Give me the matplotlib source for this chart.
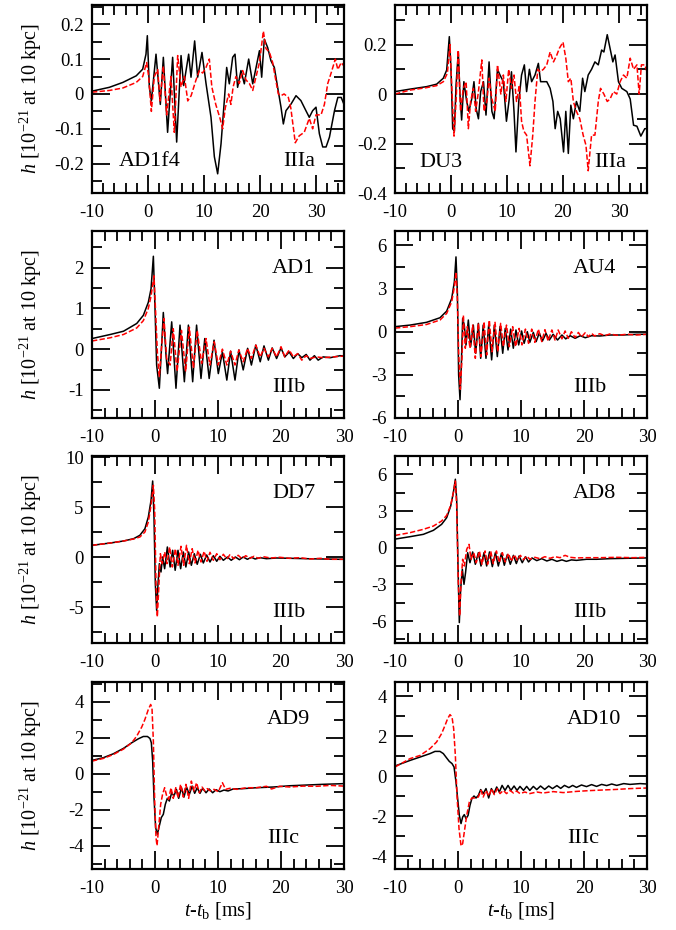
import matplotlib
matplotlib.use("Agg")
from matplotlib import pyplot as plt
from matplotlib.ticker import MultipleLocator, FormatStrFormatter

plt.rcParams["font.family"] = "Liberation Serif"
plt.rcParams["mathtext.fontset"] = "custom"
plt.rcParams["mathtext.rm"] = "Liberation Serif"
plt.rcParams["mathtext.it"] = "Liberation Serif:italic"
plt.rcParams["axes.unicode_minus"] = False

# ---- waveform samples (t - t_b in ms, h in 1e-21) ----
AD1F4_T_BLACK = [-10, -6.9, -4.5, -2.1, -0.95, -0.36, -0.12, 0.24, 0.6, 1.43, 2.2, 2.74, 3.5, 4.4, 5.12, 5.9, 6.37, 7.26, 7.68, 8.33, 8.87, 9.64, 10.36, 11.25, 11.85, 12.44, 13.04, 13.63, 14.05, 14.52, 15.12, 15.54, 16.0, 16.6, 17.2, 17.98, 18.7, 19.3, 19.9, 20.3, 20.77, 21.37, 21.96, 22.56, 23.15, 23.75, 24.17, 24.64, 25.54, 26.43, 27.3, 28.2, 28.8, 29.4, 30.0, 30.6, 31.2, 31.8, 32.4, 33.3, 33.9, 34.5, 35]
AD1F4_H_BLACK = [0.008, 0.019, 0.033, 0.052, 0.071, 0.114, 0.167, 0.02, -0.02, 0.114, -0.03, 0.105, -0.11, 0.105, -0.138, 0.11, 0.024, 0.114, 0.048, 0.152, 0.048, 0.119, 0.03, -0.067, -0.18, -0.229, -0.143, -0.019, 0.076, 0.029, 0.105, 0.114, 0.019, 0.067, 0.029, 0.1, 0.029, 0.076, 0.124, 0.048, 0.157, 0.133, 0.095, 0.076, 0.019, -0.038, -0.086, -0.048, -0.029, -0.005, -0.019, -0.048, -0.067, -0.048, -0.038, -0.114, -0.152, -0.152, -0.124, -0.048, -0.01, -0.01, -0.03]
AD1F4_T_RED = [-10, -6.9, -4.5, -2.1, -0.95, -0.24, 0.12, 0.6, 1.13, 1.73, 2.14, 2.74, 3.33, 4.1, 4.7, 5.3, 5.9, 6.5, 7.1, 7.7, 8.57, 9.17, 9.76, 10.36, 10.95, 11.4, 12.1, 12.86, 13.33, 13.8, 14.4, 14.8, 15.2, 15.7, 16.3, 16.9, 17.5, 18.1, 18.7, 19.3, 19.9, 20.6, 21.07, 21.67, 22.26, 22.7, 23.27, 23.75, 24.3, 25.06, 25.5, 26.3, 27.0, 27.9, 28.8, 29.4, 30.0, 30.9, 31.5, 32.1, 32.7, 33.45, 33.9, 34.5, 35]
AD1F4_H_RED = [0.005, 0.01, 0.017, 0.033, 0.05, 0.09, 0.05, -0.05, 0.05, 0.07, -0.02, 0.08, -0.06, 0.05, -0.11, 0.11, 0.02, 0.05, -0.02, -0.005, 0.04, 0.067, 0.06, 0.076, 0.1, 0.02, -0.03, -0.07, -0.1, -0.04, 0.0, -0.03, 0.02, 0.05, 0.03, 0.067, 0.04, 0.03, 0.01, 0.05, 0.09, 0.18, 0.13, 0.12, 0.09, 0.05, 0.0, -0.005, 0.0, -0.01, -0.04, -0.14, -0.12, -0.11, -0.07, -0.1, -0.06, -0.06, -0.03, 0.03, 0.06, 0.1, 0.07, 0.09, 0.08]

DU3_T_BLACK = [-10, -7.3, -4.35, -2.56, -1.37, -0.77, -0.3, 0.0, 0.3, 0.6, 0.9, 1.3, 1.6, 1.9, 2.3, 2.8, 3.2, 3.7, 4.1, 4.5, 4.9, 5.3, 5.8, 6.25, 6.8, 7.3, 7.7, 8.3, 8.75, 9.35, 9.9, 10.4, 10.8, 11.25, 11.6, 12.1, 12.6, 13.1, 13.5, 14.0, 14.4, 15.0, 15.6, 16.0, 16.5, 17.1, 17.7, 18.2, 18.6, 19.05, 19.5, 20.1, 20.5, 20.95, 21.4, 21.85, 22.4, 23.0, 23.5, 23.9, 24.5, 25.1, 25.7, 26.3, 26.9, 27.3, 27.9, 28.4, 28.9, 29.3, 29.9, 30.5, 31.4, 32.0, 32.6, 33.2, 33.9, 34.6, 35]
DU3_H_BLACK = [0.01, 0.02, 0.03, 0.04, 0.064, 0.097, 0.232, 0.1, -0.14, -0.15, 0.036, 0.17, 0.0, -0.105, 0.05, -0.03, -0.07, -0.02, 0.05, -0.06, -0.1, 0.01, 0.05, -0.085, 0.13, -0.07, -0.1, 0.1, 0.077, 0.05, -0.11, -0.02, 0.09, -0.07, -0.234, -0.03, 0.077, 0.118, 0.01, 0.1, 0.05, 0.077, 0.124, 0.05, 0.05, 0.05, 0.023, -0.03, -0.14, -0.07, -0.1, -0.234, -0.07, -0.24, -0.045, -0.1, -0.03, -0.07, 0.064, 0.01, 0.077, 0.1, 0.13, 0.118, 0.178, 0.17, 0.24, 0.185, 0.13, 0.158, 0.05, 0.023, 0.01, -0.02, -0.126, -0.13, -0.17, -0.14, -0.14]
DU3_T_RED = [-10, -7.3, -4.35, -2.56, -1.37, -0.65, -0.18, 0.12, 0.54, 0.9, 1.3, 1.7, 2.2, 2.7, 3.1, 3.5, 4.0, 4.4, 4.9, 5.5, 5.9, 6.4, 6.8, 7.3, 7.9, 8.3, 8.9, 9.35, 9.8, 10.3, 10.8, 11.25, 11.7, 12.2, 12.6, 13.0, 13.5, 14.1, 14.6, 15.0, 15.5, 15.9, 16.5, 17.1, 17.7, 18.3, 18.9, 19.35, 20.0, 20.5, 20.95, 21.4, 21.85, 22.4, 23.0, 23.6, 24.1, 24.5, 25.1, 25.7, 26.3, 26.7, 27.3, 27.9, 28.4, 29.0, 29.6, 30.2, 30.8, 31.4, 32.0, 32.6, 33.2, 33.6, 34.0, 34.6, 35]
DU3_H_RED = [0.0, 0.016, 0.026, 0.034, 0.05, 0.084, 0.2, 0.036, -0.17, -0.03, 0.178, -0.07, 0.023, 0.05, -0.14, -0.03, 0.023, -0.07, 0.01, 0.138, -0.07, -0.03, 0.064, -0.02, -0.07, 0.118, 0.0, 0.077, -0.03, 0.1, 0.023, 0.077, -0.03, 0.036, -0.11, -0.15, -0.166, -0.29, -0.166, -0.03, 0.1, 0.09, 0.1, 0.118, 0.17, 0.13, 0.158, 0.185, 0.21, 0.145, 0.05, 0.064, -0.03, -0.07, -0.1, -0.166, -0.207, -0.31, -0.166, -0.166, -0.03, 0.023, 0.0, -0.03, -0.02, 0.01, 0.0, 0.05, 0.077, 0.064, 0.145, 0.1, 0.118, 0.0, 0.118, 0.118, 0.09]

AD1_T_BLACK = [-10, -7.1, -5.0, -2.9, -1.85, -1.06, -0.63, -0.26, 0.0, 0.26, 0.69, 1.0, 1.32, 1.75, 2.0, 2.65, 3.33, 3.97, 4.66, 5.3, 5.98, 6.6, 7.3, 7.9, 8.6, 9.37, 10.05, 10.7, 11.4, 12.0, 12.7, 13.33, 14.0, 14.7, 15.3, 16.0, 16.7, 17.3, 18.0, 18.6, 19.3, 20.0, 20.6, 21.3, 21.96, 22.65, 23.3, 24.0, 24.6, 25.3, 25.9, 26.7, 27.8, 29.4, 30]
AD1_H_BLACK = [0.26, 0.36, 0.44, 0.63, 0.83, 1.15, 1.48, 2.28, 1.0, -0.39, -0.96, -0.07, 0.9, -0.15, -0.6, 0.67, -0.96, 0.59, -0.8, 0.59, -0.8, 0.59, -0.72, 0.26, -0.72, 0.22, -0.6, -0.07, -0.76, -0.05, -0.76, -0.02, -0.51, 0.02, -0.39, 0.1, -0.31, 0.08, -0.27, 0.03, -0.23, 0.03, -0.19, -0.07, -0.23, -0.11, -0.21, -0.13, -0.27, -0.16, -0.27, -0.19, -0.21, -0.16, -0.17]
AD1_T_RED = [-10, -7.1, -5.0, -2.9, -1.85, -1.06, -0.63, -0.16, 0.1, 0.37, 0.69, 1.06, 1.43, 1.85, 2.4, 2.9, 3.5, 4.2, 4.87, 5.45, 6.1, 6.7, 7.4, 8.1, 8.7, 9.4, 10.05, 10.7, 11.4, 12.0, 12.7, 13.3, 14.0, 14.7, 15.3, 16.0, 16.7, 17.3, 18.0, 18.6, 19.3, 20.0, 20.6, 21.3, 21.96, 22.65, 23.3, 24.0, 24.6, 25.6, 26.7, 28.3, 30]
AD1_H_RED = [0.2, 0.28, 0.36, 0.52, 0.7, 1.0, 1.3, 1.8, 0.91, -0.07, -0.67, 0.1, 0.75, -0.23, -0.39, 0.5, -0.55, 0.46, -0.55, 0.54, -0.47, 0.46, -0.35, 0.26, -0.39, 0.18, -0.39, 0.0, -0.39, -0.05, -0.39, -0.02, -0.31, 0.02, -0.23, 0.1, -0.19, 0.02, -0.19, 0.02, -0.19, 0.06, -0.19, -0.02, -0.19, -0.11, -0.27, -0.16, -0.23, -0.19, -0.21, -0.19, -0.17]

AU4_T_BLACK = [-10, -7.6, -5.0, -2.86, -1.8, -1.0, -0.58, -0.32, -0.1, 0.1, 0.32, 0.53, 0.74, 1.0, 1.27, 1.64, 2.0, 2.43, 2.8, 3.23, 3.6, 4.0, 4.44, 4.87, 5.34, 5.77, 6.24, 6.67, 7.1, 7.5, 7.94, 8.36, 8.78, 9.2, 9.63, 10.1, 10.5, 11.0, 11.4, 11.96, 12.4, 12.9, 13.4, 13.97, 14.5, 15.1, 15.8, 16.5, 17.1, 17.8, 18.6, 19.4, 20.2, 21.2, 22.5, 24.1, 26.2, 28.4, 30.0]
AU4_H_BLACK = [0.35, 0.46, 0.65, 0.97, 1.43, 2.31, 3.46, 5.2, 2.77, -3.0, -4.73, -2.3, 0.92, 0.46, -0.92, 0.81, -1.04, 0.46, -1.5, 0.58, -1.85, 0.46, -1.85, 0.46, -1.96, 0.46, -1.73, 0.35, -1.5, 0.23, -1.27, 0.18, -1.15, 0.12, -0.92, 0.05, -0.81, 0.0, -0.74, -0.05, -0.69, -0.09, -0.65, -0.12, -0.58, -0.18, -0.58, -0.23, -0.5, -0.28, -0.46, -0.28, -0.42, -0.28, -0.3, -0.23, -0.23, -0.18, -0.18]
AU4_T_RED = [-10, -7.6, -5.0, -2.86, -1.8, -1.0, -0.58, -0.32, -0.1, 0.1, 0.37, 0.63, 0.85, 1.16, 1.48, 1.9, 2.33, 2.75, 3.23, 3.65, 4.13, 4.55, 4.97, 5.4, 5.87, 6.3, 6.77, 7.2, 7.7, 8.15, 8.68, 9.15, 9.7, 10.16, 10.7, 11.2, 11.7, 12.2, 12.75, 13.3, 13.8, 14.3, 14.9, 15.4, 15.9, 16.5, 17.0, 17.5, 18.0, 18.6, 19.1, 19.6, 20.2, 20.7, 21.2, 21.7, 22.5, 23.3, 24.1, 25.2, 26.8, 28.4, 30.0]
AU4_H_RED = [0.25, 0.35, 0.5, 0.81, 1.27, 2.08, 3.1, 4.16, 2.31, -1.4, -4.0, -1.85, 1.15, -1.15, 0.35, -1.15, 0.46, -1.85, 0.58, -1.73, 0.69, -1.62, 0.81, -1.4, 0.69, -1.4, 0.58, -1.04, 0.46, -1.04, 0.35, -1.04, 0.23, -0.92, 0.18, -0.81, 0.18, -0.74, 0.18, -0.69, 0.14, -0.65, 0.12, -0.58, 0.12, -0.5, 0.05, -0.46, 0.0, -0.42, -0.05, -0.37, -0.07, -0.35, -0.12, -0.3, -0.14, -0.28, -0.16, -0.25, -0.18, -0.23, -0.18]

DD7_T_BLACK = [-10, -7.1, -5.0, -3.4, -2.4, -1.6, -1.06, -0.63, -0.37, -0.16, 0.05, 0.26, 0.48, 0.69, 0.95, 1.2, 1.53, 1.96, 2.4, 2.8, 3.2, 3.65, 4.07, 4.5, 4.9, 5.34, 5.77, 6.24, 6.7, 7.2, 7.67, 8.2, 8.73, 9.26, 9.8, 10.3, 10.85, 11.5, 12.1, 12.75, 13.4, 14.0, 14.66, 15.3, 15.9, 16.7, 17.7, 19.3, 21.4, 24.1, 26.7, 29.4, 30]
DD7_H_BLACK = [1.17, 1.4, 1.6, 1.83, 2.17, 2.83, 4.0, 5.67, 7.6, 4.0, -2.67, -5.33, -2.67, -0.67, -1.5, 0.0, -1.17, 1.0, -1.0, 0.67, -1.33, 0.67, -1.17, 0.5, -1.0, 0.5, -0.83, 0.33, -0.73, 0.27, -0.6, 0.2, -0.5, 0.13, -0.43, 0.07, -0.33, 0.0, -0.33, 0.0, -0.27, 0.0, -0.23, -0.03, -0.2, -0.07, -0.17, -0.1, -0.13, -0.17, -0.2, -0.23, -0.23]
DD7_T_RED = [-10, -7.1, -5.0, -3.4, -2.4, -1.6, -1.06, -0.63, -0.26, -0.05, 0.16, 0.37, 0.58, 0.85, 1.16, 1.53, 1.9, 2.33, 2.75, 3.23, 3.65, 4.13, 4.55, 5.0, 5.45, 5.9, 6.35, 6.83, 7.3, 7.8, 8.25, 8.73, 9.26, 9.8, 10.3, 10.85, 11.4, 11.9, 12.5, 13.2, 13.8, 14.4, 15.1, 15.7, 16.4, 17.2, 18.3, 19.8, 21.4, 23.0, 24.6, 26.2, 27.8, 29.4, 30]
DD7_H_RED = [1.17, 1.4, 1.6, 1.8, 2.0, 2.5, 3.5, 5.17, 7.17, 4.67, -2.67, -6.0, -3.33, 0.33, -0.67, 0.5, -0.67, 1.0, -1.0, 0.83, -0.83, 1.07, -0.83, 1.17, -0.67, 0.83, -0.6, 0.67, -0.5, 0.57, -0.43, 0.47, -0.33, 0.33, -0.27, 0.27, -0.2, 0.23, -0.17, 0.17, -0.17, 0.13, -0.13, 0.07, -0.13, 0.03, -0.1, -0.03, -0.13, -0.07, -0.2, -0.13, -0.23, -0.23, -0.23]

AD8_T_BLACK = [-10, -7.6, -5.5, -3.9, -2.6, -1.8, -1.16, -0.74, -0.42, -0.21, 0.0, 0.21, 0.42, 0.69, 0.95, 1.2, 1.53, 1.9, 2.33, 2.75, 3.23, 3.65, 4.13, 4.55, 5.0, 5.45, 5.93, 6.4, 6.9, 7.35, 7.83, 8.3, 8.8, 9.26, 9.7, 10.2, 10.7, 11.2, 11.75, 12.5, 13.3, 14.1, 14.9, 15.7, 16.5, 17.2, 18.0, 18.8, 20.4, 22.0, 24.1, 26.8, 30.0]
AD8_H_BLACK = [0.7, 0.9, 1.09, 1.42, 1.91, 2.45, 3.4, 4.5, 5.6, 3.95, -1.5, -6.13, -3.4, -1.77, -3.0, -2.04, -0.41, -1.23, -0.35, -1.36, -0.41, -1.5, -0.41, -1.5, -0.35, -1.55, -0.41, -1.5, -0.46, -1.44, -0.57, -1.36, -0.63, -1.3, -0.68, -1.23, -0.74, -1.17, -0.84, -1.06, -0.9, -1.09, -0.95, -1.12, -1.0, -1.12, -1.0, -1.04, -0.95, -0.95, -0.9, -0.87, -0.84]
AD8_T_RED = [-10, -7.6, -5.5, -3.9, -2.6, -1.8, -1.16, -0.74, -0.42, -0.21, 0.05, 0.26, 0.48, 0.74, 1.0, 1.38, 1.75, 2.06, 2.5, 2.9, 3.4, 3.8, 4.3, 4.7, 5.2, 5.6, 6.1, 6.56, 7.04, 7.5, 8.0, 8.47, 8.94, 9.4, 9.9, 10.4, 10.9, 11.4, 12.2, 13.0, 13.8, 14.6, 15.4, 16.2, 17.0, 17.8, 18.8, 20.4, 22.5, 25.2, 27.8, 30.0]
AD8_H_RED = [1.0, 1.23, 1.5, 1.77, 2.18, 2.64, 3.46, 4.5, 5.45, 3.4, -2.86, -5.6, -2.86, -0.95, -1.5, -0.14, 0.27, -0.95, -0.41, -1.23, -0.27, -1.36, -0.27, -1.36, -0.3, -1.3, -0.27, -1.23, -0.41, -1.17, -0.46, -1.12, -0.57, -1.04, -0.63, -0.98, -0.68, -0.95, -0.79, -0.9, -0.74, -0.87, -0.74, -0.82, -0.63, -0.79, -0.84, -0.82, -0.82, -0.79, -0.82, -0.79]

AD9_T_BLACK = [-10, -8.2, -6.6, -5.0, -3.7, -2.65, -1.85, -1.2, -0.8, -0.58, -0.37, -0.16, 0.1, 0.37, 0.69, 1.0, 1.32, 1.64, 1.96, 2.28, 2.65, 3.0, 3.4, 3.76, 4.2, 4.6, 5.0, 5.45, 5.9, 6.3, 6.7, 7.14, 7.57, 8.1, 8.6, 9.15, 9.7, 10.3, 10.95, 11.6, 12.4, 14.0, 16.1, 18.8, 21.4, 24.1, 26.7, 29.4, 30]
AD9_H_BLACK = [0.74, 0.89, 1.11, 1.41, 1.72, 1.94, 2.07, 2.07, 1.96, 1.72, 0.7, -1.33, -3.0, -3.37, -2.9, -2.44, -2.26, -1.7, -1.37, -1.52, -1.06, -1.24, -0.87, -1.37, -0.78, -1.3, -0.74, -1.15, -0.69, -1.09, -0.78, -1.09, -0.81, -1.06, -0.85, -1.06, -0.89, -1.0, -0.91, -0.96, -0.85, -0.83, -0.78, -0.74, -0.67, -0.63, -0.59, -0.56, -0.55]
AD9_T_RED = [-10, -8.2, -6.6, -5.0, -3.7, -2.9, -2.1, -1.6, -1.06, -0.69, -0.48, -0.26, -0.05, 0.16, 0.32, 0.58, 0.9, 1.2, 1.53, 1.85, 2.17, 2.54, 2.9, 3.3, 3.65, 4.07, 4.5, 4.9, 5.34, 5.77, 6.2, 6.6, 7.04, 7.46, 7.9, 8.3, 8.8, 9.37, 10.05, 10.7, 11.2, 11.9, 13.0, 14.55, 16.1, 17.7, 18.5, 19.8, 21.4, 23.5, 25.7, 27.8, 30]
AD9_H_RED = [0.7, 0.85, 1.07, 1.37, 1.72, 2.09, 2.6, 3.02, 3.57, 3.85, 3.67, 1.81, -1.52, -3.56, -4.0, -3.0, -1.7, -1.15, -0.78, -1.24, -1.43, -0.78, -1.37, -0.78, -1.33, -0.59, -1.3, -0.59, -1.37, -0.41, -0.96, -0.5, -1.06, -0.74, -0.96, -0.83, -0.96, -0.87, -1.0, -0.5, -0.87, -0.81, -0.87, -0.78, -0.78, -0.7, -0.85, -0.7, -0.74, -0.69, -0.7, -0.65, -0.69]

AD10_T_BLACK = [-10, -7.6, -6.0, -4.44, -3.65, -2.86, -2.33, -1.8, -1.38, -0.95, -0.63, -0.32, 0.0, 0.21, 0.48, 0.74, 1.0, 1.27, 1.6, 1.9, 2.2, 2.54, 2.86, 3.23, 3.6, 4.0, 4.44, 4.87, 5.3, 5.7, 6.14, 6.56, 7.0, 7.46, 7.94, 8.4, 8.9, 9.37, 9.84, 10.4, 10.9, 11.4, 11.96, 12.5, 13.1, 13.76, 14.4, 15.0, 15.7, 16.3, 16.9, 17.6, 18.2, 18.8, 19.6, 20.4, 21.2, 22.0, 22.8, 23.6, 24.4, 25.2, 26.3, 27.3, 28.9, 30.0]
AD10_H_BLACK = [0.5, 0.78, 0.95, 1.12, 1.23, 1.23, 1.12, 0.9, 0.73, 0.62, 0.45, -0.3, -1.3, -1.97, -2.38, -2.05, -1.93, -2.13, -1.97, -1.47, -1.13, -1.0, -1.1, -0.97, -0.68, -0.88, -0.63, -1.1, -0.63, -0.88, -0.55, -0.8, -0.47, -0.72, -0.47, -0.72, -0.5, -0.72, -0.52, -0.72, -0.52, -0.72, -0.52, -0.68, -0.5, -0.67, -0.5, -0.63, -0.48, -0.62, -0.47, -0.58, -0.47, -0.57, -0.45, -0.53, -0.43, -0.52, -0.42, -0.48, -0.4, -0.47, -0.38, -0.42, -0.38, -0.4]
AD10_T_RED = [-10, -7.6, -6.0, -4.44, -3.4, -2.6, -2.06, -1.64, -1.27, -0.95, -0.69, -0.42, -0.16, 0.16, 0.48, 0.74, 1.0, 1.38, 1.8, 2.2, 2.7, 3.23, 3.65, 4.0, 4.44, 4.92, 5.34, 5.77, 6.24, 6.67, 7.2, 7.7, 8.25, 8.8, 9.3, 9.84, 10.6, 11.4, 12.5, 13.5, 15.1, 16.7, 18.8, 20.9, 23.0, 25.2, 27.3, 30.0]
AD10_H_RED = [0.45, 0.87, 1.03, 1.37, 1.7, 2.12, 2.53, 2.87, 3.07, 2.95, 2.37, 1.03, -0.97, -2.63, -3.5, -3.38, -2.8, -1.97, -1.3, -1.1, -1.1, -1.05, -0.72, -1.05, -0.72, -1.0, -0.63, -0.93, -0.63, -0.88, -0.72, -0.88, -0.72, -0.85, -0.75, -0.88, -0.8, -0.88, -0.8, -0.85, -0.78, -0.83, -0.77, -0.73, -0.7, -0.67, -0.63, -0.6]

MODELS = ["AD1f4", "DU3", "AD1", "AU4", "DD7", "AD8", "AD9", "AD10"]
TYPES = ["IIIa", "IIIa", "IIIb", "IIIb", "IIIb", "IIIb", "IIIc", "IIIc"]
Y_LIMITS = [(-0.284, 0.255), (-0.4, 0.36), (-1.69, 2.9), (-6, 7),
            (-8.6, 10.1), (-7.8, 7.5), (-5.3, 5.1), (-4.65, 4.7)]
Y_MAJOR = [0.1, 0.2, 1, 3, 5, 3, 2, 2]

CURVES = [
    (AD1F4_T_BLACK, AD1F4_H_BLACK, AD1F4_T_RED, AD1F4_H_RED),
    (DU3_T_BLACK, DU3_H_BLACK, DU3_T_RED, DU3_H_RED),
    (AD1_T_BLACK, AD1_H_BLACK, AD1_T_RED, AD1_H_RED),
    (AU4_T_BLACK, AU4_H_BLACK, AU4_T_RED, AU4_H_RED),
    (DD7_T_BLACK, DD7_H_BLACK, DD7_T_RED, DD7_H_RED),
    (AD8_T_BLACK, AD8_H_BLACK, AD8_T_RED, AD8_H_RED),
    (AD9_T_BLACK, AD9_H_BLACK, AD9_T_RED, AD9_H_RED),
    (AD10_T_BLACK, AD10_H_BLACK, AD10_T_RED, AD10_H_RED),
]

# label positions in axes coords (model name, regime)
NAME_POS = [(0.107, 0.144), (0.095, 0.14), (0.714, 0.775), (0.706, 0.775),
            (0.714, 0.775), (0.706, 0.775), (0.694, 0.775), (0.683, 0.775)]
TYPE_POS = [(0.758, 0.144), (0.79, 0.14), (0.714, 0.14), (0.706, 0.14),
            (0.714, 0.14), (0.706, 0.14), (0.694, 0.14), (0.683, 0.14)]

ROWS_PX = [(5, 193), (231, 418), (456, 643), (682, 869)]
COLS_PX = [92, 395]
W, H = 676, 930


def draw_panel(ax, i):
    tb, hb, tr, hr = CURVES[i]
    ax.plot(tb, hb, color="black", lw=1.1)
    ax.plot(tr, hr, color="red", lw=1.1, dashes=(3.5, 1.5))
    if i < 2:
        ax.set_xlim(-10, 35)
    else:
        ax.set_xlim(-10, 30)
    ax.set_ylim(*Y_LIMITS[i])
    ax.xaxis.set_major_locator(MultipleLocator(10))
    ax.xaxis.set_minor_locator(MultipleLocator(2))
    ax.yaxis.set_major_locator(MultipleLocator(Y_MAJOR[i]))
    ax.yaxis.set_minor_locator(MultipleLocator(Y_MAJOR[i] / 2))
    ax.yaxis.set_major_formatter(FormatStrFormatter("%g"))
    ax.xaxis.set_major_formatter(FormatStrFormatter("%g"))
    ax.tick_params(which="both", direction="in", top=True, right=True,
                   labelsize=13.5, width=1.3)
    ax.tick_params(which="major", length=13)
    ax.tick_params(which="minor", length=7)
    ax.tick_params(axis="x", pad=8)
    ax.tick_params(axis="y", pad=6)
    for s in ax.spines.values():
        s.set_linewidth(1.6)
    nx, ny = NAME_POS[i]
    ax.text(nx, ny, MODELS[i], transform=ax.transAxes, fontsize=16)
    px, py = TYPE_POS[i]
    ax.text(px, py, TYPES[i], transform=ax.transAxes, fontsize=16)


def execute():
    fig = plt.figure(figsize=(W / 100, H / 100), dpi=100)
    for i in range(8):
        r, c = divmod(i, 2)
        top, bot = ROWS_PX[r]
        left = COLS_PX[c]
        ax = fig.add_axes([left / W, 1 - bot / H, 252 / W, (bot - top) / H])
        draw_panel(ax, i)
        if c == 0:
            ax.set_ylabel("$h$ [10$^{-21}$ at 10 kpc]", fontsize=14.5)
            ax.yaxis.set_label_coords(-0.19, 0.5)
        if r == 3:
            ax.set_xlabel("$t$-$t_{\\rm b}$ [ms]", fontsize=14.5)
            ax.xaxis.set_label_coords(0.5, -0.165)
    fig.savefig("out.png", dpi=100)


if __name__ == "__main__":
    execute()
